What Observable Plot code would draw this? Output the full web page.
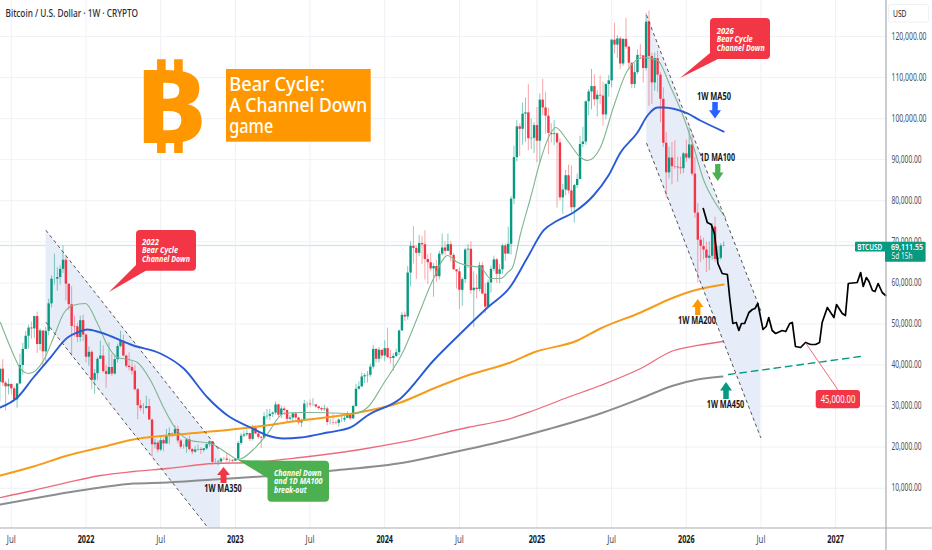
<!DOCTYPE html>
<html><head><meta charset="utf-8">
<script src="https://cdn.jsdelivr.net/npm/d3@7"></script>
<script src="https://cdn.jsdelivr.net/npm/@observablehq/plot@0.6"></script>
<style>html,body{margin:0;padding:0;background:#fff}svg{display:block}</style>
</head><body><div id="chart"></div>
<script>
// Weekly candles, week 0 = 2022-01-03, first candle = week -30 (2021-06-07). Prices in thousands of USD.
const firstWeek = -30;
const firstOpen = 35.8;
const closes = [39.0,35.6,34.7,35.3,34.2,31.5,35.4,39.9,43.8,47.0,49.0,48.8,51.8,45.0,48.3,43.2,48.2,54.9,60.9,60.9,61.3,63.3,65.5,59.7,54.7,49.4,49.3,46.7,50.8,47.3,
41.9,43.1,36.3,37.9,41.4,42.2,38.4,37.7,39.4,37.8,41.3,44.5,45.8,42.2,39.7,39.4,38.5,34.0,30.1,29.4,29.4,29.9,26.6,20.6,21.0,19.3,21.6,20.8,22.6,23.3,23.2,24.3,21.5,20.0,20.0,21.8,19.4,18.8,19.3,19.4,19.2,19.6,20.6,21.3,16.3,16.3,16.4,17.1,17.1,16.8,16.8,16.6,
17.1,20.9,22.7,23.0,23.3,21.9,24.6,23.2,22.4,22.2,27.4,27.5,28.0,28.3,30.3,27.8,29.3,28.9,26.8,27.1,28.1,27.1,25.9,26.3,30.5,30.5,30.3,30.3,29.8,29.4,29.1,29.3,26.0,26.0,25.9,25.8,26.6,26.6,27.0,27.9,26.9,29.9,34.1,34.7,37.1,37.4,37.5,39.5,43.8,41.4,43.6,42.2,
44.0,41.8,41.6,42.1,43.0,48.3,52.1,51.7,62.4,68.9,68.4,67.2,69.6,69.3,65.7,64.9,63.4,64.0,61.5,67.0,68.5,67.7,69.3,66.7,63.2,62.7,58.2,60.8,68.0,68.2,58.1,58.7,58.4,64.2,57.3,54.1,60.0,63.3,65.6,62.1,63.2,69.0,67.0,69.4,80.4,90.5,98.0,97.4,101.1,101.4,95.1,95.2,98.3,
94.5,104.5,102.6,100.6,96.4,96.1,96.3,94.1,80.7,82.6,86.1,82.4,78.3,83.7,85.2,93.7,94.3,104.1,106.5,107.8,104.6,105.7,105.5,100.9,108.3,109.2,119.1,117.9,119.4,113.3,119.3,117.4,113.5,108.3,111.2,115.4,115.3,112.2,123.5,115.1,108.7,114.6,110.6,104.7,94.0,86.8,90.4,88.3,88.2,88.0,87.8,91.4,
90.4,93.6,86.5,77.0,70.4,68.9,68.0,66.0,66.5,73.6,65.7,66.0,69.0,69.11];
const highs = [39.3,41.3,36.0,36.6,35.1,34.6,35.4,42.6,45.3,48.1,49.7,50.5,51.9,52.9,48.8,47.3,49.2,56.0,61.7,67.0,63.7,64.2,69.0,66.3,59.5,59.1,51.9,50.2,51.9,52.1,
47.6,44.4,43.5,38.9,41.8,45.8,44.7,40.0,45.4,42.6,42.3,45.1,48.2,47.2,42.4,43.0,40.8,40.0,34.3,31.4,30.6,32.4,31.7,26.9,21.9,21.5,22.4,22.1,24.3,24.7,23.5,25.2,25.1,21.8,20.6,21.8,22.7,19.7,20.2,20.5,19.9,19.7,21.0,21.5,21.0,17.2,16.8,17.4,17.5,18.4,17.1,16.9,
17.2,21.4,23.4,23.8,24.2,23.4,25.3,25.2,23.9,22.6,28.4,29.2,29.2,28.6,31.0,30.5,30.0,29.8,29.1,27.7,28.4,28.4,27.3,26.8,31.4,31.0,31.5,31.8,30.3,30.0,29.7,30.2,29.7,26.8,28.1,26.4,26.9,27.5,27.5,28.6,28.0,30.2,35.3,35.9,38.0,37.9,38.4,40.2,44.8,44.0,44.3,43.6,
45.9,49.0,43.6,42.8,43.9,48.5,52.8,52.9,64.0,70.0,73.7,68.9,71.6,71.3,72.7,66.9,67.2,64.7,65.5,67.7,71.9,70.0,71.9,70.1,67.2,62.8,63.8,61.3,68.4,69.3,70.0,62.7,62.0,65.0,64.9,59.8,60.7,64.1,66.5,66.0,64.4,69.4,69.5,73.6,81.0,93.3,99.6,98.7,103.8,105.0,108.3,99.9,99.0,
102.7,106.0,109.6,106.4,102.5,98.8,99.5,96.5,95.0,84.0,87.4,88.7,88.5,84.0,86.5,95.7,97.9,104.3,107.1,112.0,110.7,106.8,110.4,108.9,108.5,110.5,119.3,123.2,120.2,119.8,119.4,124.4,117.6,113.5,113.4,116.7,118.0,113.4,125.6,126.2,115.9,116.0,116.4,111.2,107.5,96.6,93.0,94.2,94.6,90.6,90.6,91.8,
94.8,97.9,96.5,90.6,79.3,71.4,70.9,70.0,70.0,74.5,76.0,69.0,69.5,70.0];
const lows = [31.0,34.8,28.8,32.7,32.7,31.0,29.5,35.2,37.5,43.8,43.9,46.3,46.5,42.8,43.4,39.6,40.7,47.1,53.9,59.5,58.0,59.5,62.3,55.6,53.3,42.0,46.8,45.5,45.6,45.7,
40.5,39.7,34.0,32.9,36.3,41.7,38.0,34.3,37.5,37.2,37.6,40.5,44.2,41.9,39.2,38.6,37.6,33.7,26.7,28.7,28.0,29.3,26.6,17.6,19.6,18.6,18.9,18.9,20.7,20.7,22.4,22.7,20.8,19.5,19.5,18.5,19.0,18.1,18.5,19.0,18.2,18.7,19.2,20.0,15.6,16.0,15.5,16.0,16.7,16.3,16.3,16.3,
16.5,17.1,20.4,22.3,22.6,21.4,21.5,23.1,21.9,19.6,21.9,26.6,26.5,27.2,27.8,27.1,26.9,27.7,25.9,26.4,25.9,26.6,25.4,24.8,26.3,29.5,29.7,30.0,29.5,29.0,28.6,28.7,25.2,25.4,25.3,25.4,24.9,26.0,26.0,27.2,26.5,26.8,29.7,33.9,34.5,35.5,35.6,37.0,39.0,40.5,40.5,41.4,
40.8,41.5,40.3,38.5,41.8,42.3,48.3,50.6,50.9,59.0,64.6,60.8,66.4,64.5,60.7,59.6,62.8,56.5,60.2,60.7,66.6,66.7,67.6,65.1,63.0,58.5,53.5,54.3,59.9,63.5,57.2,49.1,56.1,57.8,57.1,52.5,54.6,57.5,62.7,59.9,59.8,62.0,65.2,67.6,66.8,79.0,89.4,90.8,93.5,94.2,92.2,92.5,91.5,
89.3,89.3,100.7,96.2,91.2,94.1,93.4,78.2,80.0,76.7,81.2,81.6,77.1,74.6,83.0,85.1,92.9,93.5,100.7,102.1,103.0,100.4,103.4,98.2,99.7,105.2,107.5,115.7,114.7,112.0,112.7,116.8,111.7,107.3,107.3,110.7,114.4,108.6,111.6,103.0,103.5,106.7,106.3,99.0,93.0,80.6,85.3,83.9,87.6,84.5,86.4,86.6,
89.3,90.0,86.0,75.7,60.0,65.0,65.6,62.5,63.0,65.5,65.0,65.0,65.5,68.8];

// Moving averages, read as week / price pairs
const ma50Weeks = [-29.8,-23.9,-18.3,-12.4,-6.4,-3,0.5,5,16.5,25.9,34,42.3,49.3,57.3,63.2,68.8,74.7,84.1,92.1,98,109.5,121,130.4,139.8,147.8,153.7,159.3,164.2,169.7,176.7,181.9,186.1,192,195.5,199,201,209.4,213.9,222];
const ma50Values = [29660,32090,36960,41830,46700,47920,48650,47920,44760,42810,39150,32090,27710,24790,22840,22110,22350,23570,24790,27710,31850,41100,47680,54010,59120,66180,72760,75190,77140,81280,86150,91750,96620,100760,102710,102710,101250,99540,96860];
const ma200Weeks = [-29.8,-18.3,-6.4,5,16.5,28.4,39.9,57.3,74.7,93.1,109.5,121,132.8,147.8,155.8,171.1,179.1,193.1,204.6,210.5,222];
const ma200Values = [13100,15290,17970,19920,21870,22840,23570,24790,26490,28200,30880,34280,37450,40620,43050,45970,48890,52790,56440,57900,59610];
const ma350Weeks = [-29.8,-18.3,-6.4,5,16.5,28.4,44.4,57.3,74.7,95.6,109.5,132.8,147.8,155.8,167.6,179.1,193.1,204.6,212.9,221.6];
const ma350Values = [7740,9450,11400,13100,14070,14800,16020,16270,17480,19430,21140,24790,26980,28930,32090,35020,39150,43540,44760,45730];
const ma450Weeks = [-29.8,-18.3,-6.4,5,16.5,28.4,44.4,63.5,86.2,110.9,127.6,146.1,161.8,179.1,193.1,204.6,212.9,221.6];
const ma450Values = [6040,7500,8960,10180,11150,11400,12130,12980,14320,16270,18700,21620,24540,28200,31850,35020,36480,37210];
const ma100dWeeks = [-29.8,-26.3,-22.8,-20,-14.8,-11.3,-7.8,-4.7,-0.2,4,7.5,11,14.8,17.9,22.5,27,31.2,36.4,43.4,49.3,53.1,58.3,63.2,68.8,74.7,78.2,93.1,98,103.6,110.6,115.4,121,125.9,129.4,132.8,137.4,140.9,144.4,146.8,148.5,151.3,154.8,158.2,161.7,163.5,167.6,172.2,174.6,179.1,183.6,188.5,194.1,199,203.6,208.1,211.6,215.1,218.6,222.7];
const ma100dValues = [50360,44270,39150,37940,41100,46700,52550,54500,54980,50110,44760,41830,41350,40620,36230,29660,24540,21620,20890,18460,17000,19430,23330,28200,28440,28440,28200,29660,35500,43540,51570,61070,66670,64970,64240,63750,61070,61070,62530,63750,72030,80790,89800,96380,97840,94670,90530,89800,92970,102710,111720,114880,114150,107580,100270,92970,84930,80060,75920];
// Projected price path
const projWeeks = [214.9,216.3,217.7,218.8,220,221.5,223.3,224.1,225.2,226.4,227.3,228.2,229.3,230.8,232,232.9,233.9,235.7,236.8,237.7,238.9,240.1,242.4,243.6,245,245.9,247,248.8,250.5,252.3,254,255.4,256.3,258.1,260.4,261.3,263.3,264.4,265.4,268.5,269.7,270.6,271.7,272.6,273.8,274.7,275.8,277.2,278.4];
const projValues = [78110,74710,74220,72030,64720,62290,62040,56440,50110,50360,48410,50110,50110,52790,53520,53760,54980,48650,49380,51570,48410,47680,48410,48160,50110,50360,44510,44270,45490,45000,45000,45490,50360,54010,51570,54740,52550,52060,59850,60100,62530,59120,61310,60340,58150,57900,59850,57660,56930];
// Channels: [start, end]
const ch1Weeks = [-13.9,46.8];  const ch1Upper = [72760,18940];  const ch1Lower = [50360,-3460];
const ch2Weeks = [195.2,234.9]; const ch2Upper = [125110,53280]; const ch2Lower = [93940,22350];
const ma450ProjWeeks = [223.7,269.7]; const ma450ProjValues = [37690,42080];
const lastPrice = 69111.55;
const yearWeeks = [0,52,104,157,209,261]; const yearLabels = ["2022","2023","2024","2025","2026","2027"];
const julWeeks = [-26,26,78,130,183,235];
const priceTicks = [10000,20000,30000,40000,50000,60000,70000,80000,90000,100000,110000,120000];

const sans = "'Noto Sans',sans-serif";
const pts = (w,v)=>w.map((d,i)=>({w:d,v:v[i]}));
const candles = closes.map((c,i)=>({w:firstWeek+i,open:(i?closes[i-1]:firstOpen)*1000,close:c*1000,high:highs[i]*1000,low:lows[i]*1000}));
const up = candles.filter(d=>d.close>=d.open), down = candles.filter(d=>d.close<d.open);
const band = (w,a,b)=>w.map((d,i)=>({w:d,a:a[i],b:b[i]}));
const ch1 = band(ch1Weeks,ch1Upper,ch1Lower), ch2 = band(ch2Weeks,ch2Upper,ch2Lower);
const UP="#089981", DN="#f23645";

function annotations(){
  const g = d3.create("svg:g");
  const text=(t,x,y,o={})=>{const e=g.append("text").attr("x",x).attr("y",y).text(t)
    .attr("font-family",sans).attr("font-size",o.fs||10).attr("font-weight",o.fw||"normal")
    .attr("font-style",o.fst||"normal").attr("fill",o.fill||"#131722").attr("text-anchor",o.ta||"start");
    if(o.tl) e.attr("data-tl",o.tl); return e;};
  const rect=(x,y,w,h,f,r=0,s=null)=>g.append("rect").attr("x",x).attr("y",y).attr("width",w).attr("height",h).attr("fill",f).attr("rx",r).attr("stroke",s);
  const path=(d,f)=>g.append("path").attr("d",d).attr("fill",f);
  const arrowDown=(x0,x1,y0,y1,f)=>{const m=(x0+x1)/2,s=(x1-x0)*.23,n=y0+(y1-y0)*.5;path(`M${m-s},${y0}H${m+s}V${n}H${x1}L${m},${y1}L${x0},${n}H${m-s}Z`,f)};
  const arrowUp=(x0,x1,y0,y1,f)=>{const m=(x0+x1)/2,s=(x1-x0)*.23,n=y0+(y1-y0)*.5;path(`M${m-s},${y1}H${m+s}V${n}H${x1}L${m},${y0}L${x0},${n}H${m-s}Z`,f)};
  // frame lines
  g.append("line").attr("x1",0).attr("x2",932).attr("y1",528).attr("y2",528).attr("stroke","#a8abb3").attr("stroke-width",1.2);
  g.append("line").attr("x1",886).attr("x2",886).attr("y1",0).attr("y2",550).attr("stroke","#a8abb3").attr("stroke-width",1.2);
  // header
  text("Bitcoin / U.S. Dollar · 1W · CRYPTO",5.5,16.5,{fs:10.3,fw:500,fill:"#2a2e39",tl:132.7});
  // logo + title box
  text("₿",0,0,{fs:102,fw:700,fill:"#ff9800",ta:"middle"}).attr("transform","translate(169,142.6) scale(1.26,1)");
  rect(226,69,144.7,72.7,"#ff9800");
  [["Bear Cycle:",90.7,95.7],["A Channel Down",112,138],["game",133,44]].forEach(([t,y,tl])=>text(t,229.3,y,{fs:20.5,fw:500,fill:"#fff",tl}));
  // callouts
  const callout=(x,y,w,h,tail,f)=>{rect(x,y,w,h,f,4);path(tail,f)};
  const lines=(rows,x)=>rows.forEach(([t,y,tl])=>text(t,x,y,{fs:9.5,fw:700,fst:"italic",fill:"#fff",tl}));
  callout(136,230,60,40.7,"M136,265L109,292L147,270Z",DN);
  lines([["2022",244.5,17],["Bear Cycle",253,36],["Channel Down",261.5,48]],142);
  callout(710,18,60,41,"M710,53L680,78L718,59Z",DN);
  lines([["2026",33.5,17],["Bear Cycle",42,36],["Channel Down",50.5,48]],716.7);
  callout(267.5,460.7,61.5,41,"M238,460L282,461L267.5,478Z","#4caf50");
  lines([["Channel Down",475.5,47.5],["and 1D MA100",484.2,48.7],["break-out",493,32.7]],274);
  // labels + arrows
  const lab=(t,x,y,tl)=>text(t,x,y,{fs:10,fw:700,ta:"middle",tl});
  lab("1W MA50",714,99.5,34); arrowDown(709,721,102,118.5,"#2962ff");
  lab("1D MA100",717.5,161,35); arrowDown(712,723.5,164,181,"#4caf50");
  lab("1W MA200",697,324,38); arrowUp(692,703.5,299,315,"#ff9800");
  lab("1W MA450",725.5,407.5,37.5); arrowUp(720,732,382,399,UP);
  lab("1W MA350",223,491.5,37.5); arrowUp(217,230,467,483,DN);
  // 45,000 label
  g.append("line").attr("x1",805.7).attr("y1",343).attr("x2",838).attr("y2",390).attr("stroke","#ef6a78").attr("stroke-width",1);
  rect(815.7,390,44.3,18.3,DN,3);
  text("45,000.00",838,402.8,{fs:10,fill:"#fff",ta:"middle",tl:34.7});
  // last price
  rect(855,241.7,31,9.8,UP,1); rect(885,241.7,40.6,20,UP,1);
  text("BTCUSD",869.8,250,{fs:9.5,fw:600,fill:"#fff",ta:"middle",tl:25});
  text("69,111.55",891,250,{fs:9.5,fw:600,fill:"#fff",tl:32});
  text("5d 15h",891.5,259,{fs:9,fill:"#e8f5f2",tl:21});
  // currency box
  rect(888.5,4.5,40,17.5,"#fff",2,"#eef0f3");
  text("USD",893,16.5,{fs:9.5,fill:"#131722",tl:13.5});
  return g.node();
}

const chart = Plot.plot({
  width:932,height:550,marginLeft:0,marginRight:46,marginTop:0,marginBottom:22,
  style:{background:"#fff",overflow:"hidden"},
  x:{type:"linear",domain:[-29.77,278.7],range:[0,886]},
  y:{type:"linear",domain:[195,128763],range:[528,0]},
  marks:[
    Plot.gridX([...julWeeks,...yearWeeks],{stroke:"#eef1f5",strokeOpacity:1,strokeWidth:1}),
    Plot.gridY(priceTicks,{stroke:"#eef1f5",strokeOpacity:1,strokeWidth:1}),
    Plot.ruleY([lastPrice],{stroke:"#d9e5e6",strokeWidth:1.6}),
    Plot.areaY(ch1,{x:"w",y1:"a",y2:"b",fill:"#e7ecf9",clip:true}),
    Plot.areaY(ch2,{x:"w",y1:"a",y2:"b",fill:"#e7ecf9",clip:true}),
    Plot.ruleX(up,{x:"w",y1:"low",y2:"high",stroke:UP,strokeOpacity:.5,strokeWidth:1}),
    Plot.ruleX(down,{x:"w",y1:"low",y2:"high",stroke:DN,strokeOpacity:.45,strokeWidth:1}),
    Plot.ruleX(up,{x:"w",y1:"open",y2:"close",stroke:UP,strokeWidth:2.4}),
    Plot.ruleX(down,{x:"w",y1:"open",y2:"close",stroke:DN,strokeWidth:2.4}),
    Plot.line(pts(ma450Weeks,ma450Values),{x:"w",y:"v",stroke:"#8b8d8f",strokeWidth:2,curve:"monotone-x"}),
    Plot.line(pts(ma350Weeks,ma350Values),{x:"w",y:"v",stroke:"#ec6b7b",strokeWidth:1.3,curve:"monotone-x"}),
    Plot.line(pts(ma200Weeks,ma200Values),{x:"w",y:"v",stroke:"#f59c1a",strokeWidth:2,curve:"monotone-x"}),
    Plot.line(pts(ma100dWeeks,ma100dValues),{x:"w",y:"v",stroke:"#7fb68f",strokeWidth:1.1,curve:"monotone-x"}),
    Plot.line(pts(ma50Weeks,ma50Values),{x:"w",y:"v",stroke:"#2a5bd7",strokeWidth:1.9,curve:"monotone-x"}),
    Plot.line(ch1,{x:"w",y:"b",stroke:"#555",strokeWidth:1,strokeDasharray:"2.6 3.8",clip:true}),
    Plot.line(ch1,{x:"w",y:"a",stroke:"#555",strokeWidth:1,strokeDasharray:"2.6 3.8",clip:true}),
    Plot.line(ch2,{x:"w",y:"a",stroke:"#555",strokeWidth:1,strokeDasharray:"2.6 3.8",clip:true}),
    Plot.line(ch2,{x:"w",y:"b",stroke:"#555",strokeWidth:1,strokeDasharray:"2.6 3.8",clip:true}),
    Plot.line(pts(ma450ProjWeeks,ma450ProjValues),{x:"w",y:"v",stroke:UP,strokeWidth:1.4,strokeDasharray:"6.5 5"}),
    Plot.line(pts(projWeeks,projValues),{x:"w",y:"v",stroke:"#000",strokeWidth:1.7}),
    Plot.axisY(priceTicks,{anchor:"right",tickSize:0,tickPadding:5,label:null,tickFormat:d3.format(",.2f"),fontFamily:sans,fontSize:10,fill:"#4a4e57"}),
    Plot.axisX(julWeeks,{anchor:"bottom",tickSize:0,tickPadding:7,label:null,tickFormat:()=>"Jul",fontFamily:sans,fontSize:10,fill:"#4a4e57"}),
    Plot.axisX(yearWeeks,{anchor:"bottom",tickSize:0,tickPadding:7,label:null,tickFormat:(d)=>yearLabels[yearWeeks.indexOf(d)],fontFamily:sans,fontSize:10.5,fontWeight:700,fill:"#131722"}),
    annotations
  ]
});
document.getElementById("chart").append(chart);
// the source image is horizontally condensed: squeeze each text to the width seen there
function squeeze(t,target){
  const sx=target/t.getComputedTextLength();
  let tx=0,ty=0;
  const xa=t.getAttribute("x"), ya=t.getAttribute("y");
  if(xa!==null && !isNaN(+xa)){tx=+xa; t.removeAttribute("x");}
  if(ya!==null && !isNaN(+ya)){ty=+ya; t.removeAttribute("y");}
  t.setAttribute("transform",`${t.getAttribute("transform")||""} translate(${tx},${ty}) scale(${sx.toFixed(3)},1)`);
}
chart.querySelectorAll("text[data-tl]").forEach(t=>squeeze(t,+t.getAttribute("data-tl")));
chart.querySelectorAll('[aria-label="y-axis tick label"] text').forEach(t=>squeeze(t,t.textContent.length>9?35:30));
chart.querySelectorAll('[aria-label="x-axis tick label"] text').forEach(t=>squeeze(t,t.textContent==="Jul"?9:16.6));
</script></body></html>
